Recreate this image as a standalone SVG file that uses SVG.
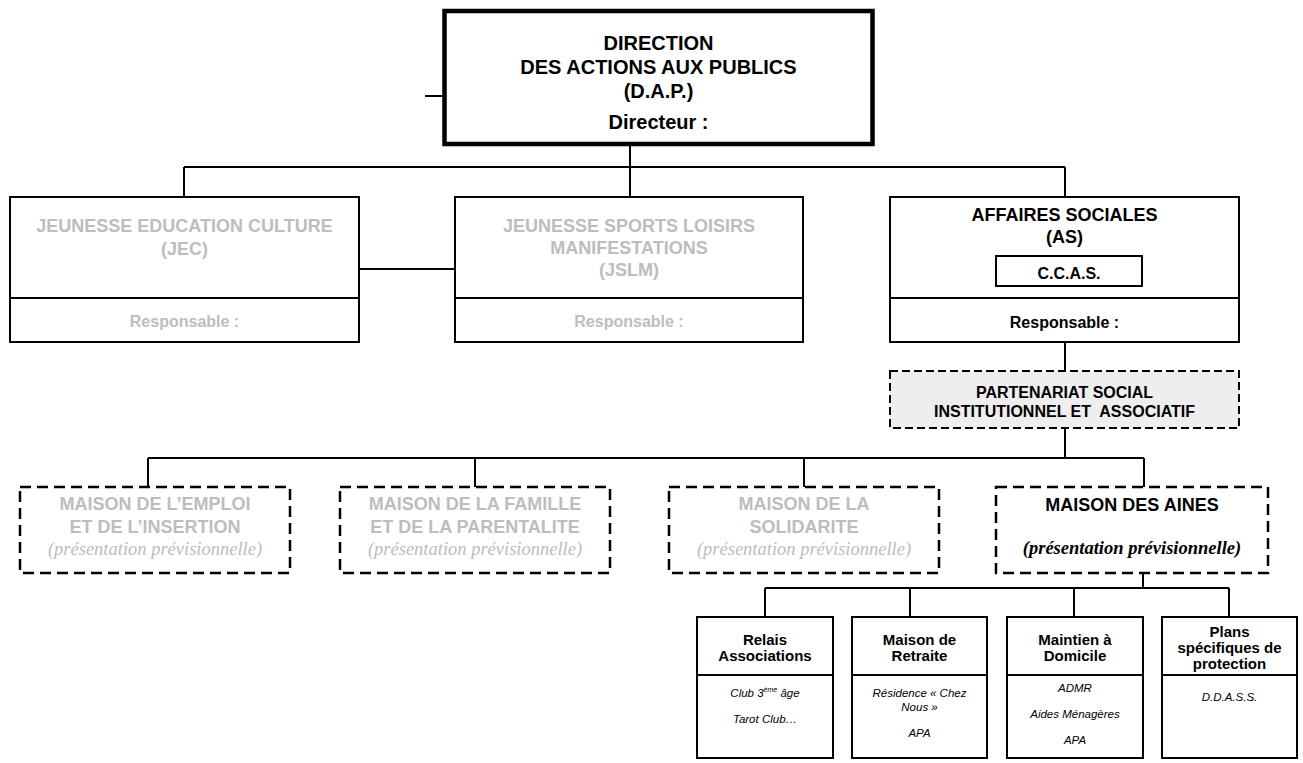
<svg xmlns="http://www.w3.org/2000/svg" width="1303" height="763" viewBox="0 0 1303 763">
<style>
.bx{fill:#fff;stroke:#000;stroke-width:2}
.dash{fill:#fff;stroke:#000;stroke-width:2.5;stroke-dasharray:11 6}
.dash2{fill:#eeeeee;stroke:#000;stroke-width:2;stroke-dasharray:8 4}
.ln{stroke:#000;stroke-width:2;fill:none}
text{font-family:"Liberation Sans",Arial,sans-serif;text-anchor:middle}
.b{font-weight:bold}
.g{fill:#bdbdbd}
.t20{font-size:20px}
.t18{font-size:18px}
.t16{font-size:16px}
.t15{font-size:15px}
.it{font-style:italic;font-size:11.5px}
.ser{font-family:"Liberation Serif","Times New Roman",serif;font-style:italic;font-size:18.5px}
</style>
<g id="connectors">
<line class="ln" x1="425" y1="96" x2="443" y2="96"/>
<line class="ln" x1="630" y1="146" x2="630" y2="167"/>
<line class="ln" x1="184" y1="167" x2="1065" y2="167"/>
<line class="ln" x1="184" y1="167" x2="184" y2="197"/>
<line class="ln" x1="630" y1="167" x2="630" y2="197"/>
<line class="ln" x1="1065" y1="167" x2="1065" y2="197"/>
<line class="ln" x1="359" y1="269" x2="455" y2="269"/>
<line class="ln" x1="1065" y1="342" x2="1065" y2="371"/>
<line class="ln" x1="1065" y1="428" x2="1065" y2="458"/>
<line class="ln" x1="148" y1="458" x2="1144" y2="458"/>
<line class="ln" x1="148" y1="458" x2="148" y2="487"/>
<line class="ln" x1="475" y1="458" x2="475" y2="487"/>
<line class="ln" x1="804" y1="458" x2="804" y2="487"/>
<line class="ln" x1="1144" y1="458" x2="1144" y2="487"/>
<line class="ln" x1="1143" y1="573" x2="1143" y2="588"/>
<line class="ln" x1="765" y1="588" x2="1229" y2="588"/>
<line class="ln" x1="765" y1="588" x2="765" y2="617"/>
<line class="ln" x1="910" y1="588" x2="910" y2="617"/>
<line class="ln" x1="1074" y1="588" x2="1074" y2="617"/>
<line class="ln" x1="1229" y1="588" x2="1229" y2="617"/>
</g>
<g id="dap">
<rect x="444.5" y="11" width="428" height="133" fill="#fff" stroke="#000" stroke-width="4.5"/>
<text class="b t20" x="658.5" y="50">DIRECTION</text>
<text class="b t20" x="658.5" y="74">DES ACTIONS AUX PUBLICS</text>
<text class="b t20" x="658.5" y="98">(D.A.P.)</text>
<text class="b t20" x="658.5" y="129">Directeur :</text>
</g>
<g id="jec">
<rect class="bx" x="10" y="197" width="349" height="145"/>
<line class="ln" x1="10" y1="298" x2="359" y2="298"/>
<text class="b t18 g" x="184.5" y="232">JEUNESSE EDUCATION CULTURE</text>
<text class="b t18 g" x="184.5" y="255">(JEC)</text>
<text class="b t16 g" x="184.5" y="327">Responsable :</text>
</g>
<g id="jslm">
<rect class="bx" x="455" y="197" width="348" height="145"/>
<line class="ln" x1="455" y1="298" x2="803" y2="298"/>
<text class="b t18 g" x="629" y="232">JEUNESSE SPORTS LOISIRS</text>
<text class="b t18 g" x="629" y="254">MANIFESTATIONS</text>
<text class="b t18 g" x="629" y="276">(JSLM)</text>
<text class="b t16 g" x="629" y="327">Responsable :</text>
</g>
<g id="as">
<rect class="bx" x="890" y="197" width="349" height="145"/>
<line class="ln" x1="890" y1="298" x2="1239" y2="298"/>
<text class="b t18" x="1064.5" y="221">AFFAIRES SOCIALES</text>
<text class="b t18" x="1064.5" y="243">(AS)</text>
<rect class="bx" x="996" y="256" width="146" height="30"/>
<text class="b t16" x="1069" y="279">C.C.A.S.</text>
<text class="b t16" x="1064.5" y="328">Responsable :</text>
</g>
<g id="partenariat">
<rect class="dash2" x="890" y="371" width="349" height="57"/>
<text class="b t16" x="1064.5" y="398">PARTENARIAT SOCIAL</text>
<text class="b t16" x="1064.5" y="417" xml:space="preserve">INSTITUTIONNEL ET  ASSOCIATIF</text>
</g>
<g id="emploi">
<rect class="dash" x="20" y="487" width="270" height="86"/>
<text class="b t18 g" x="155" y="510">MAISON DE L’EMPLOI</text>
<text class="b t18 g" x="155" y="533">ET DE L’INSERTION</text>
<text class="ser g" x="155" y="555">(présentation prévisionnelle)</text>
</g>
<g id="famille">
<rect class="dash" x="340" y="487" width="270" height="86"/>
<text class="b t18 g" x="475" y="510">MAISON DE LA FAMILLE</text>
<text class="b t18 g" x="475" y="533">ET DE LA PARENTALITE</text>
<text class="ser g" x="475" y="555">(présentation prévisionnelle)</text>
</g>
<g id="solidarite">
<rect class="dash" x="669" y="487" width="270" height="86"/>
<text class="b t18 g" x="804" y="510">MAISON DE LA</text>
<text class="b t18 g" x="804" y="533">SOLIDARITE</text>
<text class="ser g" x="804" y="555">(présentation prévisionnelle)</text>
</g>
<g id="aines">
<rect class="dash" x="996" y="487" width="272" height="86"/>
<text class="b t18" x="1132" y="511">MAISON DES AINES</text>
<text class="ser b" x="1132" y="554">(présentation prévisionnelle)</text>
</g>
<g id="relais">
<rect class="bx" x="697" y="617" width="136" height="141"/>
<line class="ln" x1="697" y1="675" x2="833" y2="675"/>
<text class="b t15" x="765" y="645">Relais</text>
<text class="b t15" x="765" y="661">Associations</text>
<text class="it" x="765" y="697">Club 3<tspan font-size="7" dy="-5">ème</tspan><tspan dy="5"> âge</tspan></text>
<text class="it" x="765" y="723">Tarot Club…</text>
</g>
<g id="retraite">
<rect class="bx" x="852" y="617" width="135" height="141"/>
<line class="ln" x1="852" y1="675" x2="987" y2="675"/>
<text class="b t15" x="919.5" y="645">Maison de</text>
<text class="b t15" x="919.5" y="661">Retraite</text>
<text class="it" x="919.5" y="697">Résidence « Chez</text>
<text class="it" x="919.5" y="711">Nous »</text>
<text class="it" x="919.5" y="737">APA</text>
</g>
<g id="maintien">
<rect class="bx" x="1007" y="617" width="136" height="141"/>
<line class="ln" x1="1007" y1="675" x2="1143" y2="675"/>
<text class="b t15" x="1075" y="645">Maintien à</text>
<text class="b t15" x="1075" y="661">Domicile</text>
<text class="it" x="1075" y="692">ADMR</text>
<text class="it" x="1075" y="718">Aides Ménagères</text>
<text class="it" x="1075" y="744">APA</text>
</g>
<g id="plans">
<rect class="bx" x="1162" y="617" width="135" height="141"/>
<line class="ln" x1="1162" y1="675" x2="1297" y2="675"/>
<text class="b t15" x="1229.5" y="637">Plans</text>
<text class="b t15" x="1229.5" y="653">spécifiques de</text>
<text class="b t15" x="1229.5" y="669">protection</text>
<text class="it" x="1229.5" y="701">D.D.A.S.S.</text>
</g>
</svg>
